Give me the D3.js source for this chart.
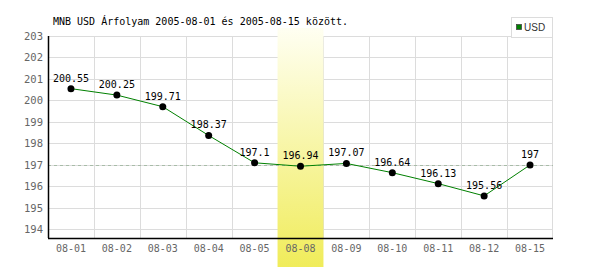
<!DOCTYPE html>
<html><head><meta charset="utf-8">
<script src="https://cdn.jsdelivr.net/npm/d3@7"></script>
<style>body{margin:0;background:#fff}svg{display:block}</style>
</head><body>
<svg id="c" width="600" height="270"></svg>
<script>
const categories = ["08-01","08-02","08-03","08-04","08-05","08-08","08-09","08-10","08-11","08-12","08-15"];
const usdValues = [200.55,200.25,199.71,198.37,197.1,196.94,197.07,196.64,196.13,195.56,197];
const yTicks = [194,195,196,197,198,199,200,201,202,203];
const highlightCategory = "08-08";
const referenceValue = 197;
const titleText = "MNB USD Árfolyam 2005-08-01 és 2005-08-15 között.";
const seriesName = "USD";

const svg = d3.select("#c");
const font = "'DejaVu Sans Mono', 'Liberation Mono', monospace";
const L = 48, R = 553, T = 36, B = 238;

const x = d3.scaleBand().domain(categories).range([L, R]).padding(0);
const y = d3.scaleLinear().domain([193.6, 203]).range([B, T]);

const defs = svg.append("defs");
const grad = defs.append("linearGradient").attr("id","hl").attr("x1",0).attr("y1",0).attr("x2",0).attr("y2",1);
grad.append("stop").attr("offset","0%").attr("stop-color","#fffff2");
grad.append("stop").attr("offset","100%").attr("stop-color","#f0ec5a");

// horizontal gridlines
svg.append("g").selectAll("line").data(yTicks).join("line")
  .attr("x1", L).attr("x2", R)
  .attr("y1", d => Math.round(y(d)) + 0.5).attr("y2", d => Math.round(y(d)) + 0.5)
  .attr("stroke", "#dcdcdc").attr("stroke-width", 1);

// vertical gridlines (band boundaries)
svg.append("g").selectAll("line").data(categories.slice(1).concat(["__end"])).join("line")
  .attr("x1", d => d === "__end" ? R - 0.5 : Math.round(x(d)) + 0.5)
  .attr("x2", d => d === "__end" ? R - 0.5 : Math.round(x(d)) + 0.5)
  .attr("y1", T).attr("y2", B)
  .attr("stroke", "#dcdcdc").attr("stroke-width", 1);

// highlight band over gridlines
svg.append("rect")
  .attr("x", x(highlightCategory)).attr("y", 28)
  .attr("width", x.bandwidth()).attr("height", 267 - 28)
  .attr("fill", "url(#hl)");

// reference dashed line
svg.append("line")
  .attr("x1", L).attr("x2", R)
  .attr("y1", Math.round(y(referenceValue)) + 0.5).attr("y2", Math.round(y(referenceValue)) + 0.5)
  .attr("stroke", "#a8bca8").attr("stroke-dasharray", "3,3");

// axes lines
svg.append("line").attr("x1", L + 0.5).attr("x2", L + 0.5).attr("y1", T).attr("y2", B)
  .attr("stroke", "#000").attr("stroke-width", 1.5);
svg.append("line").attr("x1", L).attr("x2", R).attr("y1", B + 0.5).attr("y2", B + 0.5)
  .attr("stroke", "#000").attr("stroke-width", 1.5);

// y tick labels
svg.append("g").selectAll("text").data(yTicks).join("text")
  .attr("x", 43).attr("y", d => y(d) + 4)
  .attr("text-anchor", "end").attr("font-family", font).attr("font-size", 10.5)
  .attr("fill", "#666").text(d => d);

// x tick labels
svg.append("g").selectAll("text").data(categories).join("text")
  .attr("x", d => x(d) + x.bandwidth() / 2).attr("y", 252)
  .attr("text-anchor", "middle").attr("font-family", font).attr("font-size", 10)
  .attr("fill", "#666").text(d => d);

// line
const pts = categories.map((c, i) => [x(c) + x.bandwidth() / 2, y(usdValues[i])]);
svg.append("path")
  .attr("d", d3.line()(pts))
  .attr("fill", "none").attr("stroke", "#008000").attr("stroke-width", 1);

// points
svg.append("g").selectAll("circle").data(pts).join("circle")
  .attr("cx", d => d[0]).attr("cy", d => d[1]).attr("r", 3.5).attr("fill", "#000");

// value labels
svg.append("g").selectAll("text").data(pts).join("text")
  .attr("x", d => d[0]).attr("y", d => d[1] - 7)
  .attr("text-anchor", "middle").attr("font-family", font).attr("font-size", 10)
  .attr("fill", "#000").text((d, i) => usdValues[i]);

// title
svg.append("text").attr("x", 53).attr("y", 25)
  .attr("font-family", font).attr("font-size", 10).attr("fill", "#000").text(titleText);

// legend
svg.append("rect").attr("x", 511.5).attr("y", 17.5).attr("width", 41).attr("height", 20)
  .attr("fill", "#fff").attr("stroke", "#dcdcdc");
svg.append("rect").attr("x", 516.5).attr("y", 24.5).attr("width", 5).attr("height", 5)
  .attr("fill", "#008000").attr("stroke", "#444").attr("stroke-width", 0.8);
svg.append("text").attr("x", 524).attr("y", 31)
  .attr("font-family", "'Liberation Sans', Arial, sans-serif").attr("font-size", 10)
  .attr("fill", "#333").text(seriesName);
</script>
</body></html>
